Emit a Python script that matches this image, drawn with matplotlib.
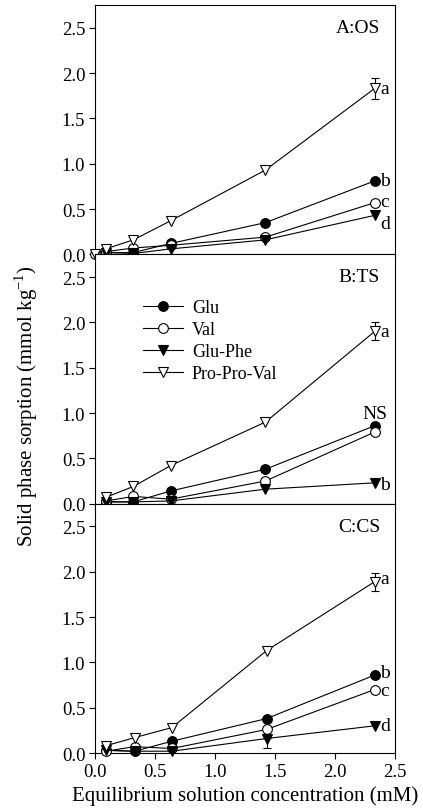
import matplotlib
matplotlib.use('Agg')
import matplotlib.pyplot as plt

matplotlib.rcParams['font.family'] = ['Liberation Serif', 'DejaVu Serif']
matplotlib.rcParams['mathtext.fontset'] = 'custom'
matplotlib.rcParams['mathtext.rm'] = 'Liberation Serif'

# ------------------------------------------------------- #
series_names = ["Glu", "Val", "Glu-Phe", "Pro-Pro-Val"]
markers = ["o", "o", "v", "v"]
facecols = ["black", "white", "black", "white"]

panel_titles = ["A:OS", "B:TS", "C:CS"]

# x values (equilibrium concentration, mM)
x_a = [[0.09, 0.32, 0.63, 1.42, 2.33],
       [0.0, 0.09, 0.32, 0.63, 1.42, 2.33],
       [0.09, 0.32, 0.63, 1.42, 2.33],
       [0.0, 0.09, 0.32, 0.63, 1.42, 2.33]]
x_b = [[0.09, 0.32, 0.63, 1.42, 2.33]] * 4
x_c = [[0.09, 0.33, 0.64, 1.43, 2.33]] * 4

# sorption values (mmol kg-1)
y_a = [[0.02, 0.02, 0.12, 0.35, 0.81],
       [0.0, 0.03, 0.07, 0.10, 0.19, 0.57],
       [0.02, 0.01, 0.06, 0.16, 0.43],
       [0.0, 0.06, 0.16, 0.37, 0.93, 1.83]]
y_b = [[0.02, 0.02, 0.14, 0.38, 0.86],
       [0.03, 0.08, 0.05, 0.25, 0.79],
       [0.02, 0.02, 0.03, 0.16, 0.23],
       [0.07, 0.19, 0.42, 0.90, 1.90]]
y_c = [[0.03, 0.02, 0.13, 0.38, 0.86],
       [0.02, 0.07, 0.05, 0.26, 0.70],
       [0.03, 0.02, 0.02, 0.16, 0.30],
       [0.08, 0.17, 0.28, 1.13, 1.89]]

# error bars: (panel, series, point index, error)
errors = [(0, 3, 5, 0.12), (1, 3, 4, 0.10), (2, 3, 4, 0.10),
          (2, 2, 3, 0.10), (2, 1, 3, 0.09)]

# significance letters: (panel, text, series, dx, dy in points)
letters = [(0, "a", 3, 4, 0), (0, "b", 0, 4, 0), (0, "c", 1, 4, 1),
           (0, "d", 2, 4, -6),
           (1, "a", 3, 4, 0), (1, "NS", 0, -9, 9), (1, "b", 2, 4, -1),
           (2, "a", 3, 4, 2), (2, "b", 0, 4, 2), (2, "c", 1, 4, -1),
           (2, "d", 2, 4, 0)]

xs_all = [x_a, x_b, x_c]
ys_all = [y_a, y_b, y_c]

fig = plt.figure(figsize=(4.23, 8.12), dpi=100)
gs = fig.add_gridspec(3, 1, left=0.2246, right=0.934, bottom=0.0714,
                      top=0.9926, hspace=0)
axes = [fig.add_subplot(gs[i]) for i in range(3)]

for p, ax in enumerate(axes):
    for s in range(4):
        ax.plot(xs_all[p][s], ys_all[p][s], color="black", linewidth=0.8,
                marker=markers[s], markersize=7, markerfacecolor=facecols[s],
                markeredgecolor="black", markeredgewidth=0.8,
                label=series_names[s], clip_on=False, zorder=3)
    for (pp, s, i, e) in errors:
        if pp == p:
            ax.errorbar(xs_all[p][s][i], ys_all[p][s][i], yerr=e,
                        color="black", linewidth=0.8, capsize=3,
                        capthick=0.8, zorder=2)
    for (pp, txt, s, dx, dy) in letters:
        if pp == p:
            ax.annotate(txt, (xs_all[p][s][-1], ys_all[p][s][-1]),
                        xytext=(dx, dy), textcoords="offset points",
                        fontsize=14, ha="left", va="center")
    ax.text(0.95, 0.91, panel_titles[p], transform=ax.transAxes,
            fontsize=14, ha="right", va="center")
    ax.set_xlim(0, 2.5)
    ax.set_ylim(0, 2.75)
    ax.set_yticks([0, 0.5, 1.0, 1.5, 2.0, 2.5])
    ax.set_yticklabels(["0.0", "0.5", "1.0", "1.5", "2.0", "2.5"])
    ax.set_xticks([0, 0.5, 1.0, 1.5, 2.0, 2.5])
    ax.tick_params(direction="out", length=4, width=0.8, labelsize=13.5,
                   pad=3)
    for sp in ax.spines.values():
        sp.set_linewidth(0.8)
    if p < 2:
        ax.tick_params(labelbottom=False)
    else:
        ax.set_xticklabels(["0.0", "0.5", "1.0", "1.5", "2.0", "2.5"])

axes[1].legend(loc="upper left", bbox_to_anchor=(0.16, 0.82), frameon=False,
               fontsize=13, handlelength=2.2, labelspacing=0.28,
               handletextpad=0.5, borderpad=0, borderaxespad=0)

axes[2].set_xlabel("Equilibrium solution concentration (mM)", fontsize=15,
                   labelpad=4)
fig.text(0.061, 0.5, "Solid phase sorption (mmol kg$^{-1}$)", rotation=90,
         fontsize=15, ha="center", va="center")

plt.savefig("out.png", dpi=100)
plt.close()
